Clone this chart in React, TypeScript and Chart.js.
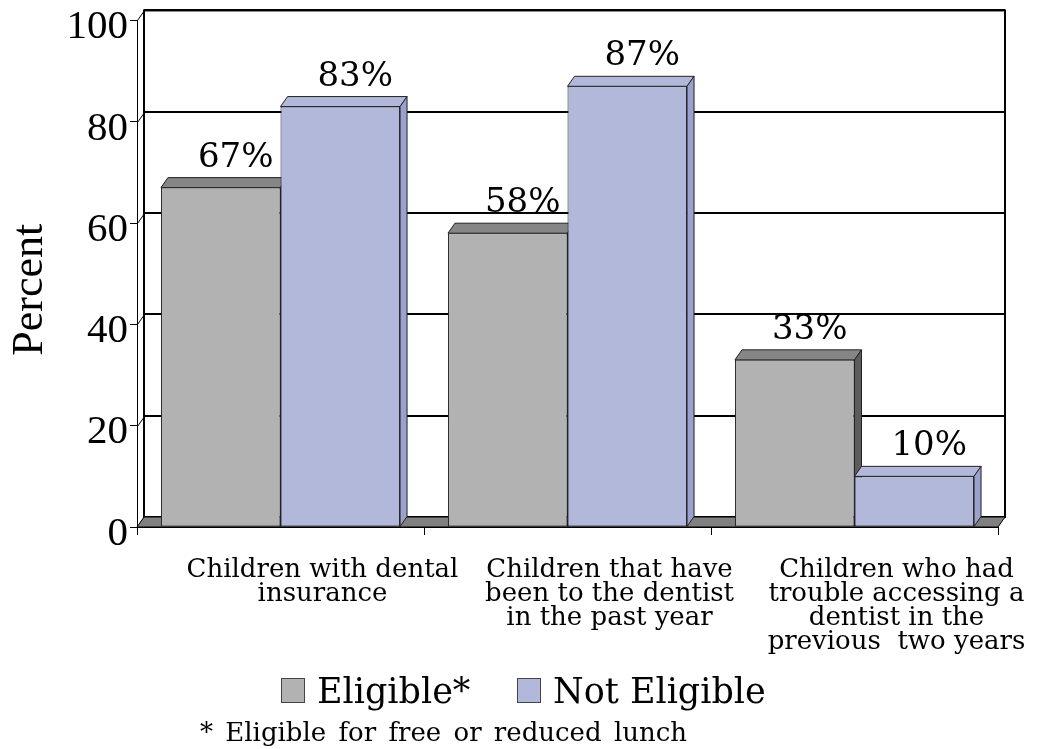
import React, { useEffect, useRef } from 'react';
import { Chart, registerables } from 'chart.js';

Chart.register(...registerables);

// ---- data ----
const categories: string[][] = [
  ['Children with dental', 'insurance'],
  ['Children that have', 'been to the dentist', 'in the past year'],
  ['Children who had', 'trouble accessing a', 'dentist in the', 'previous  two years'],
];
const eligibleValues = [67, 58, 33];
const notEligibleValues = [83, 87, 10];
const seriesNames = ['Eligible*', 'Not Eligible'];
const yTickValues = [0, 20, 40, 60, 80, 100];
const yAxisTitle = 'Percent';
const footnoteText = '* Eligible for free or reduced lunch';

// ---- styles ----
const DX = 7;
const DY = 10;
const faceColors = [
  { front: '#b2b2b2', top: '#868686', side: '#5c5c5c' },
  { front: '#b1b8da', top: '#b1b8da', side: '#9aa1cd' },
];
const SERIF = '"DejaVu Serif", serif';
const LIB = '"Liberation Serif", serif';

function poly(ctx: CanvasRenderingContext2D, pts: number[][], fill: string, stroke: string, lw = 1) {
  ctx.beginPath();
  ctx.moveTo(pts[0][0], pts[0][1]);
  for (let i = 1; i < pts.length; i++) ctx.lineTo(pts[i][0], pts[i][1]);
  ctx.closePath();
  ctx.fillStyle = fill;
  ctx.fill();
  ctx.strokeStyle = stroke;
  ctx.lineWidth = lw;
  ctx.stroke();
}

const threeDPlugin = {
  id: 'threeD',
  beforeDatasetsDraw(chart: any) {
    const { ctx, chartArea } = chart;
    const { left, right, top, bottom } = chartArea;
    const y = chart.scales.y;
    ctx.save();
    // back wall
    ctx.fillStyle = '#ffffff';
    ctx.fillRect(left + DX, top - DY, right - left, bottom - top);
    ctx.strokeStyle = '#000';
    ctx.lineWidth = 2;
    y.ticks.forEach((t: any) => {
      const py = Math.round(y.getPixelForValue(t.value)) - DY;
      ctx.beginPath();
      ctx.moveTo(left + DX, py);
      ctx.lineTo(right + DX, py);
      ctx.stroke();
    });
    ctx.strokeRect(left + DX, top - DY, right - left, bottom - top);
    // left wall diagonals
    ctx.lineWidth = 1;
    y.ticks.forEach((t: any) => {
      const py = Math.round(y.getPixelForValue(t.value)) + 0.5;
      ctx.beginPath();
      ctx.moveTo(left + 0.5, py);
      ctx.lineTo(left + DX + 0.5, py - DY);
      ctx.stroke();
    });
    // floor
    poly(ctx, [[left, bottom], [right, bottom], [right + DX, bottom - DY], [left + DX, bottom - DY]], '#808080', '#000', 1);
    // 3D faces of bars
    chart.data.datasets.forEach((ds: any, i: number) => {
      const meta = chart.getDatasetMeta(i);
      const c = faceColors[i];
      meta.data.forEach((bar: any) => {
        const p = bar.getProps(['x', 'y', 'base', 'width'], true);
        const L = p.x - p.width / 2;
        const R = p.x + p.width / 2;
        poly(ctx, [[L, p.y], [L + DX, p.y - DY], [R + DX, p.y - DY], [R, p.y]], c.top, '#222', 1);
        poly(ctx, [[R, p.y], [R + DX, p.y - DY], [R + DX, p.base - DY], [R, p.base]], c.side, '#222', 1);
      });
    });
    ctx.restore();
  },
  afterDatasetsDraw(chart: any) {
    const { ctx } = chart;
    ctx.save();
    ctx.font = `34px ${SERIF}`;
    ctx.fillStyle = '#000';
    ctx.textAlign = 'center';
    ctx.textBaseline = 'alphabetic';
    chart.data.datasets.forEach((ds: any, i: number) => {
      const meta = chart.getDatasetMeta(i);
      meta.data.forEach((bar: any, j: number) => {
        const p = bar.getProps(['x', 'y'], true);
        ctx.fillText(`${ds.data[j]}%`, p.x + 15, p.y - DY - 11);
      });
    });
    ctx.restore();
  },
  afterDraw(chart: any) {
    const { ctx, chartArea } = chart;
    ctx.save();
    // y-axis title
    ctx.fillStyle = '#000';
    ctx.font = `44px ${LIB}`;
    ctx.textAlign = 'center';
    ctx.textBaseline = 'alphabetic';
    ctx.translate(42, (chartArea.top + chartArea.bottom) / 2 + 16);
    ctx.rotate(-Math.PI / 2);
    ctx.fillText(yAxisTitle, 0, 0);
    ctx.restore();

    // legend
    ctx.save();
    const legendBoxes = [281, 517];
    const boxTop = 678;
    ctx.font = `35px ${SERIF}`;
    ctx.textAlign = 'left';
    ctx.textBaseline = 'alphabetic';
    chart.data.datasets.forEach((ds: any, i: number) => {
      const bx = legendBoxes[i];
      ctx.fillStyle = ds.backgroundColor;
      ctx.fillRect(bx, boxTop, 24, 25);
      ctx.strokeStyle = '#444';
      ctx.lineWidth = 1;
      ctx.strokeRect(bx + 0.5, boxTop + 0.5, 23, 24);
      ctx.fillStyle = '#000';
      ctx.fillText(ds.label, bx + 36, boxTop + 25);
    });
    // footnote
    ctx.font = `26px ${SERIF}`;
    (ctx as any).wordSpacing = '4px';
    ctx.fillText(footnoteText, 200, 741);
    ctx.restore();
  },
};

export default function App() {
  const canvasRef = useRef<HTMLCanvasElement>(null);

  useEffect(() => {
    document.body.style.margin = '0';
    const canvas = canvasRef.current;
    if (!canvas) return;
    const chart = new Chart(canvas, {
      type: 'bar',
      data: {
        labels: categories,
        datasets: [
          {
            label: seriesNames[0],
            data: eligibleValues,
            backgroundColor: faceColors[0].front,
            borderColor: '#222',
            borderWidth: 1,
            borderSkipped: false,
            categoryPercentage: 0.833,
            barPercentage: 1,
          },
          {
            label: seriesNames[1],
            data: notEligibleValues,
            backgroundColor: faceColors[1].front,
            borderColor: '#222',
            borderWidth: 1,
            borderSkipped: false,
            categoryPercentage: 0.833,
            barPercentage: 1,
          },
        ],
      },
      options: {
        responsive: false,
        animation: false,
        devicePixelRatio: 1,
        layout: { padding: { top: 19, right: 39, left: 0, bottom: 82 } },
        plugins: {
          legend: { display: false },
          tooltip: { enabled: false },
        },
        scales: {
          x: {
            grid: { drawOnChartArea: false, drawTicks: true, tickLength: 8, color: '#000', offset: true },
            border: { display: true, color: '#000', width: 1 },
            ticks: {
              font: { family: SERIF, size: 26, lineHeight: '24px' },
              color: '#000',
              padding: 23,
              labelOffset: 42,
              maxRotation: 0,
              minRotation: 0,
              autoSkip: false,
            },
            afterFit: (s: any) => {
              s.height = 140;
            },
          },
          y: {
            min: 0,
            max: 100,
            afterBuildTicks: (s: any) => {
              s.ticks = yTickValues.map((v) => ({ value: v }));
            },
            ticks: {
              font: { family: LIB, size: 41, lineHeight: 0.9 },
              color: '#000',
              padding: 2,
              labelOffset: 7,
            },
            grid: { drawOnChartArea: false, drawTicks: true, tickLength: 7, color: '#000' },
            border: { display: true, color: '#000', width: 1 },
            afterFit: (s: any) => {
              s.width = 137;
            },
          },
        },
      },
      plugins: [threeDPlugin],
    });
    return () => chart.destroy();
  }, []);

  return (
    <div style={{ width: 1037, height: 749, background: '#fff' }}>
      <canvas ref={canvasRef} width={1037} height={749} style={{ display: 'block' }} />
    </div>
  );
}
